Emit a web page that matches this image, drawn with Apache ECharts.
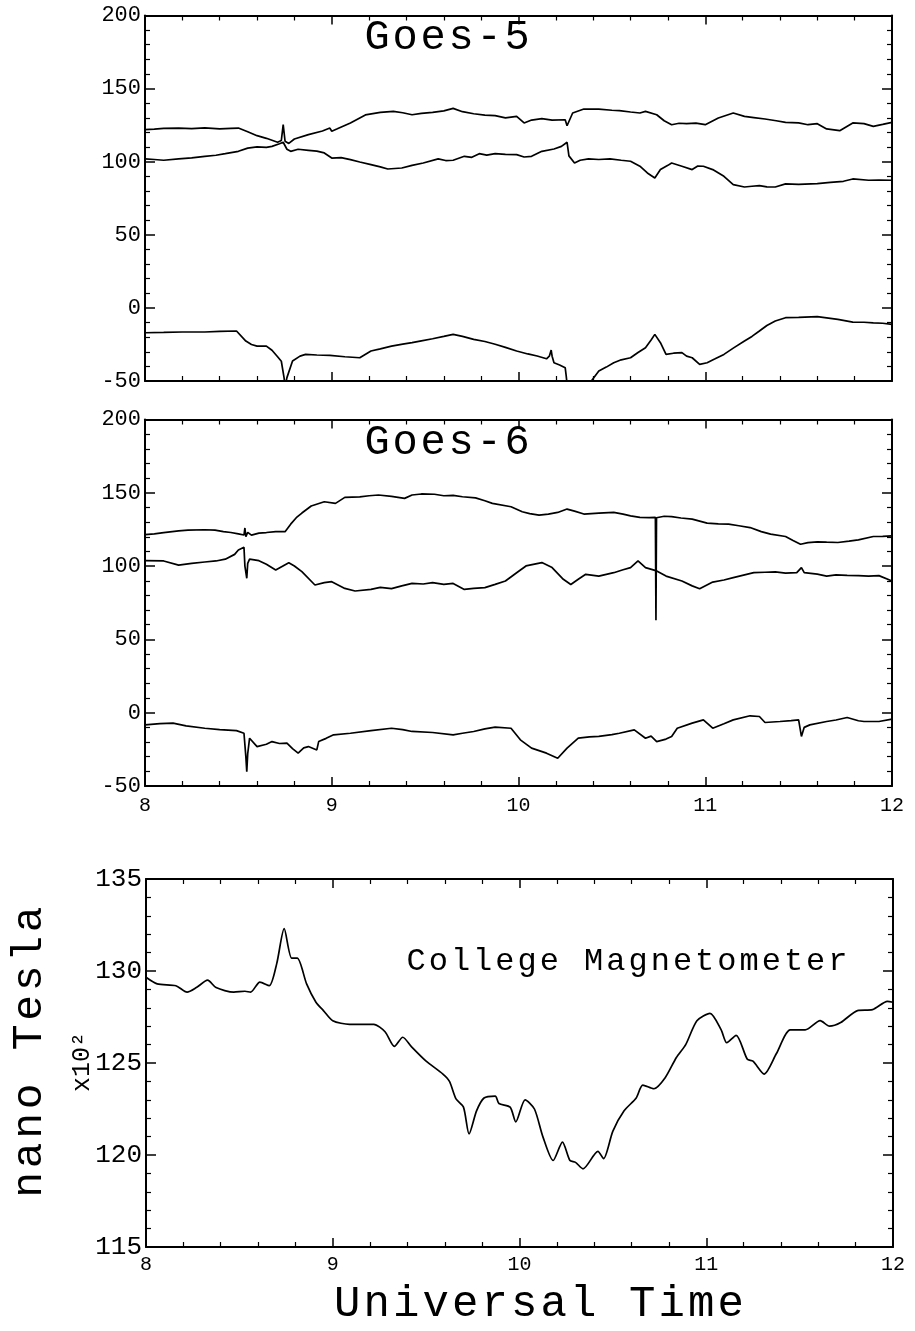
<!DOCTYPE html>
<html>
<head>
<meta charset="UTF-8">
<title>Goes-5 / Goes-6 / College Magnetometer</title>
<style>
    body { margin: 0; background: #fff; }
    #chart { width: 915px; height: 1331px; }
</style>
</head>
<body>
<div id="chart"></div>
<script src="https://cdn.jsdelivr.net/npm/echarts@6/dist/echarts.min.js"></script>
<script>
// ---- data: [universal time (h), value] ----
var g5Upper = [[8.00,122.0],[8.05,122.3],[8.10,122.8],[8.18,123.0],[8.25,122.6],[8.32,123.1],[8.40,122.5],[8.46,122.8],[8.50,123.0],[8.55,120.5],[8.60,117.8],[8.65,116.0],[8.71,113.3],[8.73,114.5],[8.74,125.3],[8.745,124.0],[8.75,114.0],[8.77,112.5],[8.80,115.5],[8.875,118.5],[8.95,121.0],[8.99,123.0],[9.00,120.8],[9.03,122.5],[9.10,126.5],[9.18,132.0],[9.26,133.7],[9.33,134.4],[9.38,133.5],[9.43,132.1],[9.48,133.0],[9.54,133.7],[9.60,134.8],[9.65,136.5],[9.70,134.2],[9.76,132.8],[9.82,131.9],[9.875,131.5],[9.93,130.0],[9.99,131.0],[10.03,126.5],[10.07,128.5],[10.125,129.4],[10.18,128.5],[10.25,128.7],[10.26,124.6],[10.29,133.3],[10.35,136.0],[10.43,136.0],[10.50,135.2],[10.54,134.9],[10.60,134.0],[10.65,133.3],[10.68,134.4],[10.74,132.1],[10.78,128.0],[10.82,125.3],[10.86,126.3],[10.90,126.0],[10.95,126.4],[11.00,125.3],[11.07,129.9],[11.15,133.3],[11.21,131.0],[11.26,130.2],[11.32,129.2],[11.38,128.0],[11.43,126.9],[11.50,126.6],[11.55,125.3],[11.60,126.0],[11.65,122.4],[11.72,121.2],[11.79,126.5],[11.85,126.0],[11.90,124.2],[11.95,125.5],[12.00,126.9]];
var g5Mid = [[8.00,101.9],[8.05,101.5],[8.10,101.0],[8.18,101.9],[8.25,102.6],[8.32,103.7],[8.38,104.4],[8.43,105.5],[8.50,107.1],[8.55,109.3],[8.60,110.1],[8.65,109.8],[8.68,110.5],[8.72,112.3],[8.74,113.3],[8.76,108.5],[8.78,107.1],[8.82,108.5],[8.875,107.8],[8.92,107.2],[8.96,106.0],[9.00,102.5],[9.05,102.8],[9.10,101.4],[9.15,99.8],[9.21,98.0],[9.26,96.5],[9.30,95.0],[9.375,95.7],[9.43,97.5],[9.49,99.1],[9.57,101.9],[9.61,100.8],[9.65,101.0],[9.71,103.7],[9.75,103.0],[9.79,105.5],[9.83,104.5],[9.875,105.5],[9.93,105.0],[9.99,104.8],[10.03,103.2],[10.07,103.7],[10.125,107.1],[10.19,108.7],[10.23,110.5],[10.26,113.3],[10.27,104.0],[10.30,99.1],[10.33,101.0],[10.375,101.9],[10.43,101.5],[10.49,101.9],[10.55,101.0],[10.60,100.3],[10.65,96.9],[10.69,92.3],[10.73,88.9],[10.76,94.6],[10.80,97.5],[10.82,99.1],[10.875,96.9],[10.93,94.6],[10.96,97.0],[10.99,96.9],[11.04,94.6],[11.10,90.0],[11.15,84.3],[11.21,82.7],[11.25,83.2],[11.29,83.6],[11.33,82.8],[11.375,82.7],[11.43,84.8],[11.50,84.5],[11.60,85.0],[11.67,85.8],[11.74,86.6],[11.79,88.2],[11.875,87.3],[11.93,87.5],[12.00,87.3]];
var g5Low = [[8.00,-17.0],[8.10,-16.8],[8.20,-16.5],[8.32,-16.5],[8.40,-16.0],[8.49,-15.8],[8.54,-22.7],[8.57,-25.0],[8.60,-26.1],[8.65,-26.1],[8.68,-29.0],[8.71,-33.4],[8.73,-36.5],[8.745,-48.0],[8.75,-54.0],[8.76,-47.7],[8.79,-36.3],[8.83,-33.0],[8.86,-31.8],[8.92,-32.2],[8.99,-32.5],[9.07,-33.4],[9.15,-34.1],[9.21,-29.5],[9.26,-28.0],[9.32,-26.1],[9.38,-24.8],[9.43,-23.8],[9.48,-22.5],[9.54,-21.1],[9.60,-19.5],[9.65,-18.1],[9.70,-19.5],[9.76,-21.5],[9.82,-23.0],[9.875,-24.9],[9.93,-27.0],[9.99,-29.5],[10.05,-31.5],[10.10,-32.9],[10.15,-34.8],[10.165,-33.0],[10.175,-28.8],[10.18,-33.0],[10.19,-37.5],[10.22,-39.0],[10.25,-40.9],[10.255,-46.0],[10.26,-52.0],[10.30,-60.0],[10.35,-60.0],[10.38,-53.0],[10.39,-50.0],[10.43,-43.2],[10.47,-40.5],[10.51,-37.5],[10.55,-35.5],[10.60,-34.1],[10.64,-30.5],[10.68,-27.2],[10.71,-22.0],[10.73,-18.1],[10.76,-23.8],[10.79,-31.8],[10.83,-31.0],[10.875,-30.6],[10.90,-33.0],[10.93,-34.1],[10.97,-38.6],[11.01,-37.5],[11.05,-35.0],[11.10,-31.8],[11.15,-27.5],[11.21,-22.7],[11.25,-19.5],[11.29,-15.8],[11.33,-12.0],[11.375,-9.0],[11.43,-6.7],[11.50,-6.5],[11.60,-6.0],[11.65,-6.8],[11.71,-7.9],[11.79,-9.7],[11.85,-9.8],[11.90,-10.2],[11.95,-10.5],[12.00,-11.3]];

var g6Upper = [[8.00,121.5],[8.05,122.0],[8.10,122.8],[8.18,124.0],[8.23,124.6],[8.32,124.8],[8.375,124.5],[8.42,123.5],[8.46,122.9],[8.50,122.0],[8.53,121.2],[8.535,126.0],[8.54,120.0],[8.55,123.0],[8.57,121.1],[8.61,122.5],[8.65,122.9],[8.70,123.5],[8.75,123.5],[8.78,128.6],[8.81,133.0],[8.84,136.2],[8.89,141.0],[8.96,143.9],[9.02,142.8],[9.07,146.9],[9.15,147.2],[9.20,148.0],[9.25,148.5],[9.32,147.5],[9.39,146.2],[9.43,148.5],[9.48,149.2],[9.55,149.0],[9.60,148.0],[9.65,148.3],[9.70,147.3],[9.77,146.5],[9.82,144.6],[9.86,142.8],[9.96,140.5],[10.02,137.1],[10.06,135.8],[10.11,134.8],[10.16,135.5],[10.21,136.6],[10.26,138.9],[10.30,137.5],[10.35,135.5],[10.43,136.1],[10.51,136.6],[10.56,135.5],[10.60,134.3],[10.65,133.2],[10.70,133.0],[10.733,133.2],[10.736,63.1],[10.739,133.0],[10.78,134.0],[10.82,133.8],[10.87,132.8],[10.93,132.0],[11.01,129.3],[11.07,128.8],[11.125,128.6],[11.18,127.5],[11.24,126.3],[11.30,123.5],[11.35,121.8],[11.43,120.2],[11.47,117.5],[11.51,114.9],[11.55,116.0],[11.60,116.5],[11.65,116.3],[11.71,116.1],[11.77,117.0],[11.82,117.9],[11.90,120.2],[11.95,120.3],[12.00,120.6]];
var g6Mid = [[8.00,103.7],[8.10,103.5],[8.18,100.7],[8.25,101.8],[8.32,102.8],[8.38,103.5],[8.43,104.7],[8.48,108.0],[8.50,111.0],[8.53,112.8],[8.535,100.0],[8.545,91.7],[8.55,101.9],[8.56,104.7],[8.61,103.7],[8.65,101.2],[8.70,97.3],[8.77,102.3],[8.80,100.1],[8.84,96.2],[8.91,87.1],[8.96,88.7],[9.00,89.4],[9.07,84.8],[9.125,83.0],[9.21,84.1],[9.26,85.5],[9.32,84.6],[9.375,86.5],[9.43,88.2],[9.49,87.8],[9.54,88.7],[9.60,87.5],[9.65,88.2],[9.71,84.1],[9.76,84.8],[9.82,85.3],[9.875,87.5],[9.93,89.8],[9.99,95.5],[10.04,100.1],[10.125,102.4],[10.18,99.0],[10.24,91.0],[10.28,87.5],[10.32,91.0],[10.36,94.4],[10.43,93.2],[10.51,95.5],[10.56,97.5],[10.60,99.0],[10.64,103.5],[10.68,99.0],[10.74,96.7],[10.79,93.2],[10.875,89.8],[10.93,86.5],[10.97,84.6],[11.04,89.1],[11.10,90.5],[11.15,92.1],[11.26,95.5],[11.32,95.8],[11.375,96.0],[11.43,95.2],[11.49,95.5],[11.515,99.0],[11.53,95.5],[11.60,94.5],[11.65,93.2],[11.70,94.0],[11.76,93.7],[11.82,93.5],[11.875,93.2],[11.93,93.5],[12.00,89.8]];
var g6Low = [[8.00,-8.3],[8.08,-7.5],[8.15,-7.1],[8.22,-9.0],[8.32,-10.6],[8.40,-11.5],[8.49,-12.2],[8.53,-14.0],[8.54,-30.0],[8.545,-40.2],[8.55,-28.0],[8.56,-17.4],[8.60,-23.1],[8.65,-21.5],[8.68,-19.7],[8.72,-21.0],[8.76,-20.8],[8.79,-24.5],[8.82,-27.6],[8.85,-24.0],[8.875,-23.1],[8.92,-25.4],[8.93,-19.7],[8.97,-17.5],[9.01,-15.1],[9.10,-14.0],[9.21,-12.2],[9.32,-10.6],[9.38,-11.5],[9.43,-12.8],[9.54,-13.5],[9.65,-15.1],[9.70,-14.0],[9.76,-12.8],[9.82,-11.0],[9.875,-9.8],[9.96,-10.6],[10.01,-18.5],[10.07,-24.2],[10.15,-27.6],[10.21,-31.1],[10.26,-24.2],[10.32,-17.4],[10.38,-16.5],[10.43,-16.2],[10.50,-15.0],[10.54,-14.0],[10.62,-11.7],[10.68,-17.4],[10.71,-16.0],[10.74,-19.7],[10.79,-18.0],[10.82,-16.2],[10.85,-10.6],[10.93,-7.1],[10.99,-4.9],[11.04,-10.6],[11.10,-7.5],[11.15,-4.9],[11.24,-2.1],[11.29,-2.6],[11.32,-6.7],[11.40,-6.0],[11.46,-5.4],[11.50,-4.9],[11.515,-16.2],[11.53,-10.0],[11.56,-8.3],[11.65,-6.0],[11.70,-5.0],[11.76,-3.3],[11.82,-5.5],[11.85,-6.0],[11.93,-6.0],[12.00,-4.4]];

// College magnetometer, units of 10^2 nT
var college = [[8.00,129.66],[8.06,129.3],[8.16,129.2],[8.22,128.85],[8.27,129.1],[8.33,129.5],[8.375,129.1],[8.47,128.85],[8.53,128.9],[8.56,128.85],[8.61,129.4],[8.66,129.2],[8.70,130.4],[8.74,132.3],[8.78,130.7],[8.81,130.7],[8.86,129.3],[8.91,128.3],[8.95,127.85],[9.00,127.3],[9.09,127.1],[9.16,127.1],[9.22,127.1],[9.28,126.7],[9.33,125.9],[9.375,126.4],[9.42,125.9],[9.50,125.1],[9.59,124.4],[9.625,124.0],[9.66,123.05],[9.70,122.6],[9.73,121.15],[9.77,122.4],[9.81,123.1],[9.87,123.2],[9.89,122.8],[9.95,122.6],[9.98,121.8],[10.03,123.0],[10.08,122.5],[10.125,121.0],[10.18,119.7],[10.23,120.7],[10.27,119.7],[10.30,119.6],[10.34,119.25],[10.42,120.2],[10.45,119.8],[10.50,121.3],[10.56,122.4],[10.625,123.1],[10.66,123.8],[10.72,123.6],[10.78,124.2],[10.84,125.3],[10.89,126.0],[10.95,127.3],[11.02,127.7],[11.08,126.8],[11.11,126.1],[11.16,126.5],[11.22,125.2],[11.25,125.1],[11.31,124.4],[11.375,125.5],[11.45,126.8],[11.53,126.8],[11.61,127.3],[11.66,127.0],[11.72,127.2],[11.81,127.85],[11.89,127.9],[11.97,128.35],[12.00,128.3]];

var timeTicks = [8, 12];          // x range (h)
var goesRange = [-50, 200];       // Goes panels, nT
var collegeRange = [115, 135];    // College panel, x10^2 nT

var FONT = 'Liberation Mono';

function spread(str, key) {
    return str.split('').map(function (ch) {
        return '{' + key + '|' + (ch === ' ' ? '\u00a0' : ch) + '}';
    }).join('');
}

function xAx(grid, pos, showLabel, fs, margin) {
    return {
        type: 'value', gridIndex: grid, position: pos,
        min: timeTicks[0], max: timeTicks[1], interval: 1,
        axisLine: { onZero: false, lineStyle: { color: '#000', width: 2 } },
        axisTick: { inside: true, length: 9, lineStyle: { color: '#000', width: 1.5 } },
        minorTick: { show: true, splitNumber: 5, length: 5, lineStyle: { color: '#000', width: 1.2 } },
        splitLine: { show: false },
        axisLabel: { show: showLabel, color: '#000', fontSize: fs, fontFamily: FONT, margin: margin }
    };
}

function yAx(grid, pos, range, step, showLabel, fs) {
    return {
        type: 'value', gridIndex: grid, position: pos,
        min: range[0], max: range[1], interval: step,
        axisLine: { onZero: false, lineStyle: { color: '#000', width: 2 } },
        axisTick: { inside: true, length: 10, lineStyle: { color: '#000', width: 1.5 } },
        minorTick: { show: true, splitNumber: 5, length: 5, lineStyle: { color: '#000', width: 1.2 } },
        splitLine: { show: false },
        axisLabel: { show: showLabel, color: '#000', fontSize: fs, fontFamily: FONT, margin: 4 }
    };
}

function line(data, xi, yi, smooth) {
    return {
        type: 'line', data: data, xAxisIndex: xi, yAxisIndex: yi,
        showSymbol: false, smooth: smooth || false, clip: true,
        lineStyle: { color: '#000', width: 1.7 }
    };
}

function label(text, x, y, fs, pitch, rot) {
    return {
        type: 'text', x: x, y: y, rotation: rot || 0,
        style: {
            text: spread(text, 'c'), align: 'center', verticalAlign: 'middle',
            rich: { c: { width: pitch, align: 'center', fontSize: fs, fontFamily: FONT, fill: '#000' } }
        }
    };
}

var chart = echarts.init(document.getElementById('chart'));
chart.setOption({
    animation: false,
    backgroundColor: '#fff',
    grid: [
        { left: 145, top: 15.5, width: 747, height: 365.5 },
        { left: 145, top: 419.5, width: 747, height: 366.5 },
        { left: 146, top: 879, width: 747, height: 368 }
    ],
    xAxis: [
        xAx(0, 'bottom', false, 20, 10), xAx(0, 'top', false, 20, 10),
        xAx(1, 'bottom', true, 20, 10), xAx(1, 'top', false, 20, 10),
        xAx(2, 'bottom', true, 20, 8), xAx(2, 'top', false, 20, 8)
    ],
    yAxis: [
        yAx(0, 'left', goesRange, 50, true, 22), yAx(0, 'right', goesRange, 50, false, 22),
        yAx(1, 'left', goesRange, 50, true, 22), yAx(1, 'right', goesRange, 50, false, 22),
        yAx(2, 'left', collegeRange, 5, true, 26), yAx(2, 'right', collegeRange, 5, false, 26)
    ],
    series: [
        line(g5Upper, 0, 0), line(g5Mid, 0, 0), line(g5Low, 0, 0),
        line(g6Upper, 2, 2), line(g6Mid, 2, 2), line(g6Low, 2, 2),
        line(college, 4, 4, 0.25)
    ],
    graphic: [
        label('Goes-5', 447, 38, 42, 28),
        label('Goes-6', 447, 443, 42, 28),
        label('College Magnetometer', 627, 962, 32, 22.2),
        label('Universal Time', 539, 1304, 44, 29.5),
        label('nano Tesla', 30, 1052, 43, 29.5, Math.PI / 2),
        { type: 'text', x: 82, y: 1062, rotation: Math.PI / 2,
          style: { text: 'x10\u00b2', align: 'center', verticalAlign: 'middle',
                   font: '25px "' + FONT + '"', fill: '#000' } }
    ]
});
</script>
</body>
</html>
